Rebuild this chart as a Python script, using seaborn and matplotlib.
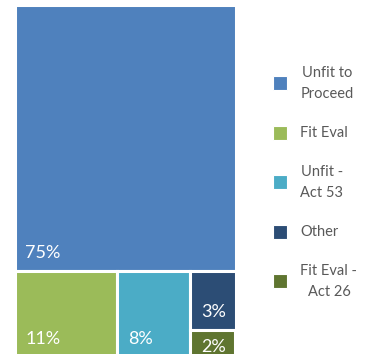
import matplotlib
matplotlib.use("Agg")
import matplotlib.pyplot as plt
from matplotlib.patches import Rectangle
import seaborn as sns

categories = ["Unfit to\nProceed", "Fit Eval", "Unfit -\nAct 53", "Other", "Fit Eval -\nAct 26"]
values = [75.4, 11.4, 8.1, 3.4, 1.6]
labels = ["75%", "11%", "8%", "3%", "2%"]
colors = ["#4F81BD", "#9BBB59", "#4BACC6", "#2C4D75", "#5F7530"]

sns.set_style("white")
plt.rcParams["font.family"] = ["Lato", "DejaVu Sans"]


def worst(row, w):
    s = sum(row)
    return max(max(w * w * r / (s * s), (s * s) / (w * w * r)) for r in row)


def layout_row(row, x, y, dx, dy):
    s = sum(row)
    rects = []
    if dx >= dy:  # column on the left, stacked top to bottom
        width = s / dy
        yy = y + dy
        for r in row:
            h = r / width
            rects.append((x, yy - h, width, h))
            yy -= h
        return rects, (x + width, y, dx - width, dy)
    else:  # row across the top
        height = s / dx
        xx = x
        for r in row:
            w = r / height
            rects.append((xx, y + dy - height, w, height))
            xx += w
        return rects, (x, y, dx, dy - height)


def squarify(sizes, x, y, dx, dy):
    sizes = list(sizes)
    out = []
    while sizes:
        short = min(dx, dy)
        row = [sizes[0]]
        i = 1
        while i < len(sizes) and worst(row + [sizes[i]], short) <= worst(row, short):
            row.append(sizes[i])
            i += 1
        rects, (x, y, dx, dy) = layout_row(row, x, y, dx, dy)
        out.extend(rects)
        sizes = sizes[i:]
    return out


fig = plt.figure(figsize=(3.65, 3.54), dpi=100)
W, H = 221.0, 352.8
ax = fig.add_axes([14.5 / 365, (354 - 5.2 - H) / 354, W / 365, H / 354])
ax.set_xlim(0, W)
ax.set_ylim(0, H)
ax.axis("off")

total = sum(values)
sizes = [v / total * W * H for v in values]
rects = squarify(sizes, 0, 0, W, H)

for (x, y, w, h), c, lab in zip(rects, colors, labels):
    ax.add_patch(Rectangle((x, y), w, h, facecolor=c, edgecolor="white", linewidth=2.2))
    base = min(y + 13.5, y + h - 21.7)
    ax.text(x + 11, base, lab, color="white", fontsize=13, ha="left", va="baseline")

# legend
lax = fig.add_axes([0, 0, 1, 1])
lax.set_xlim(0, 365)
lax.set_ylim(354, 0)
lax.axis("off")
for i, (cat, c) in enumerate(zip(categories, colors)):
    yc = 83 + i * 49.5
    lax.add_patch(Rectangle((273, yc - 7), 14, 14, facecolor=c, edgecolor="white", linewidth=0.8))
    lax.text(300.5, yc + 0.5, cat, color="#595959", fontsize=10.5, ha="left", va="center",
             multialignment="center", linespacing=1.55)

fig.savefig("out.png", dpi=100)
